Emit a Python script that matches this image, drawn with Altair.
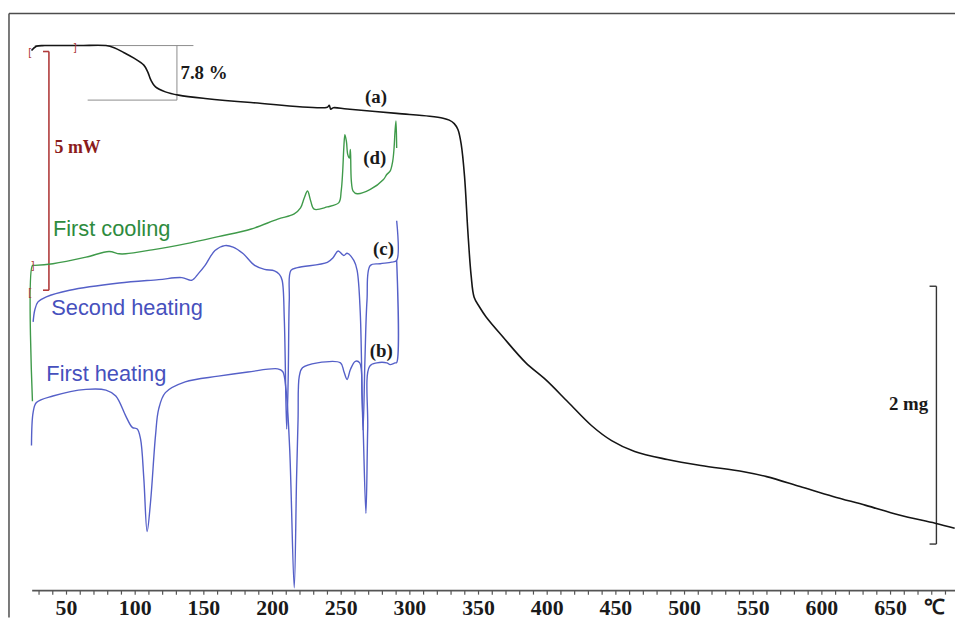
import altair as alt
import pandas as pd

# ---------------- data (temperature in degC, signal in arbitrary display units) ----------------
# (a) TGA curve
tga_T = [24.5, 28.1, 34.1, 59.4, 78.7, 84.7, 91.9, 99.1, 106.3, 109.2, 111.4, 114.8, 122.0, 131.6,
         150.9, 184.3, 239.9, 241.3, 242.4, 244.2, 254.3, 290.4, 314.3, 324.2, 328.7, 332.3, 335.0,
         337.4, 339.8, 342.2, 344.6, 346.8, 350.6, 355.4, 367.5, 384.3, 398.7, 415.3, 432.4, 446.9,
         463.7, 487.5, 511.9, 543.1, 559.8, 584.1, 608.1, 632.0, 656.3, 682.5, 696.7]
tga_s = [571.7, 576, 576.7, 576.7, 576.7, 574.5, 569.5, 564, 557, 550, 542, 535, 530, 526.7,
         523.3, 519.3, 514.5, 516.5, 512.5, 514, 512.7, 508.3, 505.5, 503.5, 501.5, 498, 492,
         477, 445, 390, 345, 323, 313.3, 303.3, 283.3, 257, 240, 217, 193.3, 178.3,
         167.3, 159.3, 153.3, 147, 142, 132, 122, 113, 103.3, 95, 90]

# (d) first cooling DSC
cool_T = [25.2, 25.2, 26.9, 40.1, 64.2, 81.0, 88.3, 93.1, 112.3, 136.4, 160.5, 184.5, 203.8, 215.8,
          220.4, 223.1, 225.5, 227.8, 230.3, 239.9, 248.3, 250.0, 251.1, 251.9, 252.7, 253.8, 254.8,
          256.0, 256.7, 257.4, 258.7, 261.6, 271.2, 280.8, 283.2, 285.6, 287.5, 288.5, 289.2, 289.9, 290.4]
cool_s = [218, 355, 355, 356.7, 363.3, 369, 366.7, 366.7, 370.7, 376.7, 384, 391.7, 401.7, 407,
          413, 423, 430, 420, 411.7, 414, 418.3, 430, 450, 473.3, 486.7, 480, 466.7,
          463.3, 472, 440, 430, 427.3, 431.7, 441.7, 446.7, 450, 460, 473.3, 490, 500.7, 473.3]

# (c) second heating DSC
heat2_T = [25.7, 26.9, 29.1, 35.3, 52.2, 88.3, 117.1, 134.0, 141.2, 146.0, 150.9, 158.1, 165.3, 171.3,
           178.5, 187.0, 194.2, 201.4, 205.0, 207.0, 208.6, 210.3, 211.4, 212.2, 213.4, 218.2, 239.9,
           244.2, 247.8, 251.9, 254.3, 259.2, 261.6, 263.9, 265.9, 267.3, 268.8, 271.2, 278.4, 286.8,
           290.4, 290.4]
heat2_s = [298, 310, 318, 323.3, 330, 337.3, 340.7, 342.7, 340, 346.7, 355, 370, 375, 373.5,
           367, 355, 351, 349.5, 346, 340, 300, 190, 240, 320, 350, 352.7, 358,
           363, 369.5, 365, 367.3, 360, 350, 307, 189, 260, 320, 355, 356.7, 358.3,
           360, 400]

# (b) first heating DSC
heat1_T = [24.5, 25.7, 28.1, 40.1, 64.2, 78.7, 85.9, 93.1, 97.9, 101.5, 103.9, 106.3, 108.7, 111.2,
           114.8, 117.1, 122.0, 136.4, 160.5, 182.1, 203.8, 207.4, 209.8, 212.5, 215.8, 217.5, 218.6,
           219.5, 221.8, 232.7, 249.5, 251.9, 254.3, 256.7, 260.3, 263.5, 265.2, 268.0, 269.3, 270.7,
           276.0, 283.2, 285.6, 289.2, 290.4, 290.4]
heat1_s = [173.3, 206.7, 216.7, 223.3, 230, 229.3, 223.3, 203.3, 191.7, 190, 180, 140, 86.7, 116.7,
           183.3, 210, 226.7, 237.5, 243.3, 247.5, 250.7, 248, 230, 170, 30, 140, 200,
           243.3, 251.7, 256.7, 256.7, 248.3, 240, 250, 258.3, 256.7, 223.3, 105, 190, 253.3,
           256.7, 256.7, 255, 256.7, 257, 360]

# x-axis ticks and labels
tick_values = list(range(30, 700, 10))
tick_labels = [50, 100, 150, 200, 250, 300, 350, 400, 450, 500, 550, 600, 650]
axis_start, axis_end, axis_level = 25, 697, 27

# annotation segments: x, x2, y, y2
frame_segs = [(8.12, 8.12, 0, 609), (8.12, 697, 609, 609)]
step_segs = [(26.9, 142.4, 576.7, 576.7), (65.4, 130.4, 521.7, 521.7), (130.4, 130.4, 576.7, 521.7)]
mw_segs = [(37.2, 37.2, 570.7, 330), (32.9, 37.2, 570.7, 570.7), (32.9, 37.2, 330, 330)]
mg_segs = [(683.4, 683.4, 334, 74), (678.4, 683.4, 334, 334), (678.4, 683.4, 74, 74)]

# ---------------- chart ----------------
W, H = 955, 612
xs = alt.Scale(domain=[7.40, 696.93], nice=False, zero=False)
ys = alt.Scale(domain=[0, 612], nice=False, zero=False)
X = lambda f="x": alt.X(f"{f}:Q", scale=xs, axis=None)
Y = lambda f="y": alt.Y(f"{f}:Q", scale=ys, axis=None)

def curve(T, s, color, width=1.4):
    df = pd.DataFrame({"x": T, "y": s, "i": range(len(T))})
    return alt.Chart(df).mark_line(color=color, strokeWidth=width, clip=True,
                                   interpolate="catmull-rom").encode(
        x=X(), y=Y(), order="i:Q")

def segs(rows, color, width):
    df = pd.DataFrame(rows, columns=["x", "x2", "y", "y2"])
    return alt.Chart(df).mark_rule(color=color, strokeWidth=width).encode(
        x=X(), x2="x2:Q", y=Y(), y2="y2:Q")

def texts(rows, color, size, font, weight="bold", align="left"):
    df = pd.DataFrame(rows, columns=["x", "y", "t"])
    return alt.Chart(df).mark_text(color=color, fontSize=size, font=font, fontWeight=weight,
                                   align=align, baseline="middle").encode(
        x=X(), y=Y(), text="t:N")

serif = "Liberation Serif"
sans = "Liberation Sans"
green = "#3f9a4a"
blue = "#5560c8"
red = "#b03a3a"

axis_line = segs([(axis_start, axis_end, axis_level, axis_level)], "#555555", 1.6)
ticks = segs([(v, v, axis_level, axis_level - 4) for v in tick_values], "#555555", 1.2)
tick_text = texts([(v, 9, str(v)) for v in tick_labels], "#1a1a1a", 22, serif, align="center")
unit_text = texts([(690.0, 9, "℃")], "#1a1a1a", 21, serif, align="right")

layers = [
    segs(frame_segs, "#4d4d4d", 1.5),
    segs(step_segs, "#8c8c8c", 1.0),
    segs(mw_segs, red, 1.6),
    segs(mg_segs, "#333333", 1.4),
    curve(heat1_T, heat1_s, blue),
    curve(heat2_T, heat2_s, blue),
    curve(cool_T, cool_s, green),
    curve(tga_T, tga_s, "#151515", 1.6),
    axis_line, ticks, tick_text, unit_text,
    texts([(23.3, 569.5, "["), (56.3, 574.5, "]"), (25.7, 354.5, "]"), (23.3, 327.5, "[")],
          red, 11, sans, weight="normal", align="center"),
    texts([(133.0, 549.3, "7.8 %")], "#1a1a1a", 19, serif),
    texts([(41.3, 473.3, "5 mW")], "#8b1c1c", 18, serif),
    texts([(275.3, 525, "(a)"), (274.5, 463, "(d)"), (280.8, 371, "(c)"), (279.2, 268.3, "(b)")],
          "#1a1a1a", 19, serif, align="center"),
    texts([(677.4, 215, "2 mg")], "#1a1a1a", 19, serif, align="right"),
    texts([(40.1, 392, "First cooling")], "#2e8b3e", 22, sans, weight="normal"),
    texts([(38.9, 312, "Second heating"), (35.3, 245, "First heating")], "#4650bd", 22, sans,
          weight="normal"),
]

chart = alt.layer(*layers).properties(
    width=W, height=H, autosize=alt.AutoSizeParams(type="none"), padding=0,
    background="white",
).configure_view(stroke=None)

chart.save("out.html", embed_options={"renderer": "svg", "actions": False})
